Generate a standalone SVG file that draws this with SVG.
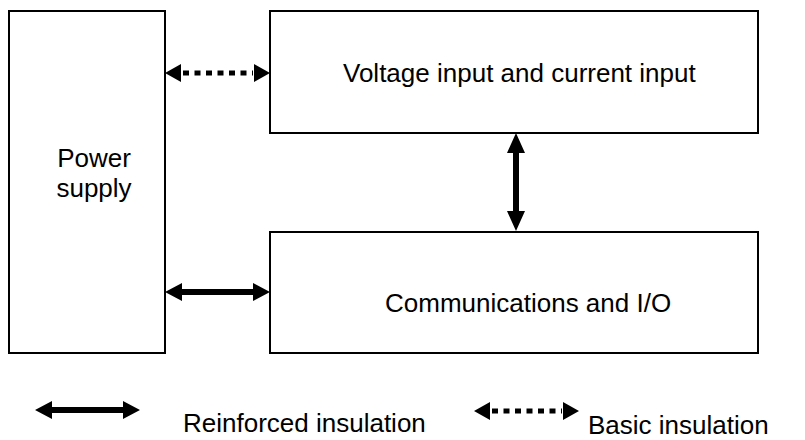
<svg xmlns="http://www.w3.org/2000/svg" width="805" height="440" viewBox="0 0 805 440">
<style>
.box{fill:#fff;stroke:#000;stroke-width:2}
.t{font-family:"Liberation Sans",Arial,sans-serif;font-size:26px;fill:#000}
.dash{stroke:#000;stroke-width:5;stroke-dasharray:6 5.5;fill:none}
</style>
<defs>
<path id="solidH" d="M0,0 L17,-9 L17,-3 L88,-3 L88,-9 L105,0 L88,9 L88,3 L17,3 L17,9 Z" fill="#000"/>
<g id="dotH">
<path d="M0,0 L16,-9 L16,9 Z M105,0 L89,-9 L89,9 Z" fill="#000"/>
<line class="dash" x1="18" y1="0" x2="88" y2="0"/>
</g>
</defs>
<g id="power"><rect class="box" x="9" y="11" width="156" height="342"/>
<text class="t" x="94" y="167" text-anchor="middle">Power</text>
<text class="t" x="94" y="197" text-anchor="middle">supply</text></g>
<g id="voltage"><rect class="box" x="270" y="11" width="488" height="122"/>
<text class="t" x="343" y="82">Voltage input and current input</text></g>
<g id="comms"><rect class="box" x="270" y="232" width="488" height="121"/>
<text class="t" x="385" y="312">Communications and I/O</text></g>
<g id="connectors">
<use href="#dotH" x="165" y="73"/>
<use href="#solidH" x="165" y="292"/>
<path d="M516,133 L525,153 L519,153 L519,211 L525,211 L516,231 L507,211 L513,211 L513,153 L507,153 Z" fill="#000"/>
</g>
<g id="legend">
<use href="#solidH" x="35" y="410"/>
<text class="t" x="183" y="432">Reinforced insulation</text>
<use href="#dotH" x="474" y="411"/>
<text class="t" x="588" y="434">Basic insulation</text>
</g>
</svg>
